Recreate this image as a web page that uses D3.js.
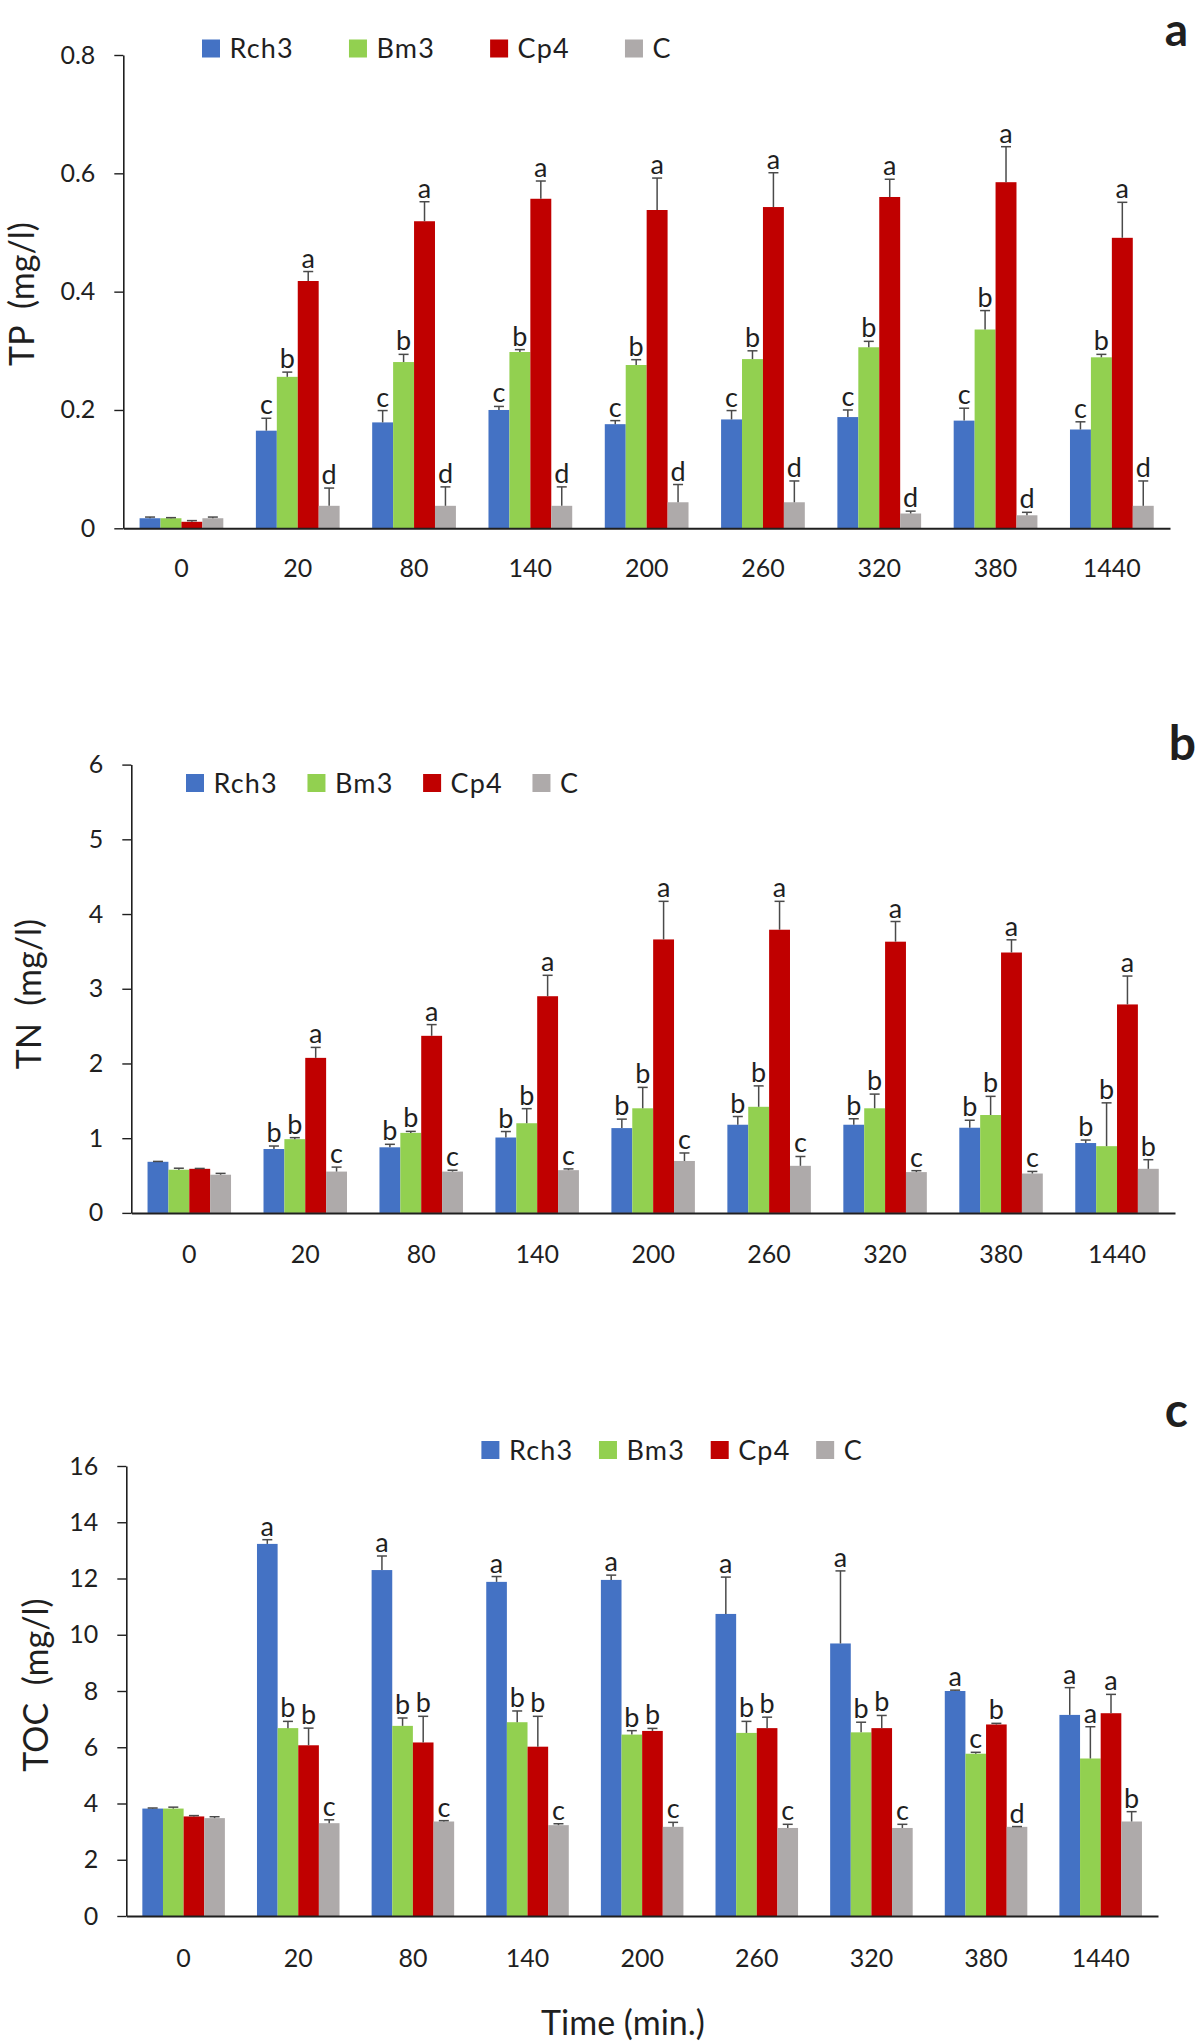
<!DOCTYPE html>
<html><head><meta charset="utf-8">
<script src="https://cdn.jsdelivr.net/npm/d3@7"></script>
<style>
html,body{margin:0;padding:0;background:#fff;}
svg{display:block;}
text{font-family:Lato,"Open Sans",sans-serif;fill:#1f1f1f;}
</style></head><body>
<svg id="chart" width="1200" height="2043"></svg>
<script>
// ---------- data ----------
const categories = ["0","20","80","140","200","260","320","380","1440"];
const seriesNames = ["Rch3","Bm3","Cp4","C"];
const seriesColors = ["#4472C4","#92D050","#C00000","#AEAAAA"];

// Panel a: TP (mg/l)
const tpTicks = [0,0.2,0.4,0.6,0.8];
const tpRch3 = [0.017,0.165,0.179,0.200,0.176,0.184,0.188,0.182,0.167];
const tpRch3Err = [0.002,0.021,0.020,0.006,0.006,0.015,0.012,0.021,0.013];
const tpBm3 = [0.017,0.256,0.281,0.298,0.276,0.286,0.306,0.336,0.289];
const tpBm3Err = [0.001,0.008,0.013,0.004,0.009,0.014,0.010,0.032,0.005];
const tpCp4 = [0.011,0.418,0.519,0.557,0.538,0.543,0.560,0.585,0.491];
const tpCp4Err = [0.002,0.016,0.033,0.030,0.054,0.058,0.030,0.060,0.060];
const tpC = [0.017,0.038,0.038,0.038,0.044,0.044,0.025,0.022,0.038];
const tpCErr = [0.002,0.030,0.032,0.032,0.030,0.036,0.004,0.005,0.042];
const tpLetRch3 = ["","c","c","c","c","c","c","c","c"];
const tpLetBm3 = ["","b","b","b","b","b","b","b","b"];
const tpLetCp4 = ["","a","a","a","a","a","a","a","a"];
const tpLetC = ["","d","d","d","d","d","d","d","d"];

// Panel b: TN (mg/l)
const tnTicks = [0,1,2,3,4,5,6];
const tnRch3 = [0.684,0.855,0.878,1.009,1.135,1.18,1.18,1.14,0.935];
const tnRch3Err = [0.005,0.04,0.04,0.08,0.12,0.11,0.08,0.10,0.04];
const tnBm3 = [0.578,0.987,1.071,1.20,1.40,1.42,1.40,1.31,0.893];
const tnBm3Err = [0.02,0.02,0.02,0.195,0.28,0.28,0.19,0.25,0.58];
const tnCp4 = [0.59,2.075,2.37,2.90,3.66,3.79,3.63,3.485,2.79];
const tnCp4Err = [0.005,0.14,0.15,0.28,0.51,0.38,0.27,0.17,0.38];
const tnC = [0.511,0.553,0.553,0.572,0.695,0.63,0.546,0.527,0.59];
const tnCErr = [0.018,0.06,0.018,0.017,0.107,0.125,0.019,0.028,0.122];
const tnLetRch3 = ["","b","b","b","b","b","b","b","b"];
const tnLetBm3 = ["","b","b","b","b","b","b","b","b"];
const tnLetCp4 = ["","a","a","a","a","a","a","a","a"];
const tnLetC = ["","c","c","c","c","c","c","c","b"];

// Panel c: TOC (mg/l)
const tocTicks = [0,2,4,6,8,10,12,14,16];
const tocRch3 = [3.82,13.23,12.30,11.88,11.95,10.74,9.69,8.00,7.15];
const tocRch3Err = [0.02,0.15,0.50,0.19,0.17,1.31,2.58,0.03,0.97];
const tocBm3 = [3.82,6.68,6.76,6.89,6.45,6.51,6.53,5.77,5.60];
const tocBm3Err = [0.05,0.24,0.28,0.40,0.14,0.41,0.36,0.05,1.13];
const tocCp4 = [3.54,6.07,6.17,6.02,6.58,6.68,6.68,6.81,7.21];
const tocCp4Err = [0.03,0.61,0.93,1.08,0.09,0.39,0.45,0.04,0.67];
const tocC = [3.48,3.30,3.36,3.23,3.17,3.13,3.13,3.17,3.36];
const tocCErr = [0.05,0.12,0.03,0.05,0.16,0.13,0.13,0.01,0.35];
const tocLetRch3 = ["","a","a","a","a","a","a","a","a"];
const tocLetBm3 = ["","b","b","b","b","b","b","c","a"];
const tocLetCp4 = ["","b","b","b","b","b","b","b","a"];
const tocLetC = ["","c","c","c","c","c","c","d","b"];

const xTitle = "Time (min.)";

// ---------- layout ----------
const panels = [
  {title:"TP  (mg/l)", letter:"a", ticks:tpTicks, max:0.8,
   vals:[tpRch3,tpBm3,tpCp4,tpC], errs:[tpRch3Err,tpBm3Err,tpCp4Err,tpCErr],
   lets:[tpLetRch3,tpLetBm3,tpLetCp4,tpLetC],
   xL:123.3, xR:1170, yTop:55, y0:528.3, legX:202, legY:39.5, legGap:55,
   titleX:33.5, titleY:294, letX:1188, letY:46, letSize:46, xLabOff:49},
  {title:"TN  (mg/l)", letter:"b", ticks:tnTicks, max:6,
   vals:[tnRch3,tnBm3,tnCp4,tnC], errs:[tnRch3Err,tnBm3Err,tnCp4Err,tnCErr],
   lets:[tnLetRch3,tnLetBm3,tnLetCp4,tnLetC],
   xL:131.3, xR:1175, yTop:764.6, y0:1212.9, legX:186, legY:774, legGap:29.5,
   titleX:40.5, titleY:994, letX:1196, letY:760, letSize:48, xLabOff:50},
  {title:"TOC  (mg/l)", letter:"c", ticks:tocTicks, max:16,
   vals:[tocRch3,tocBm3,tocCp4,tocC], errs:[tocRch3Err,tocBm3Err,tocCp4Err,tocCErr],
   lets:[tocLetRch3,tocLetBm3,tocLetCp4,tocLetC],
   xL:126.3, xR:1158, yTop:1466, y0:1916, legX:481.4, legY:1441, legGap:25.6,
   titleX:47.8, titleY:1685, letX:1188, letY:1427, letSize:48, xLabOff:51}
];

const svg = d3.select("#chart");
const tickFont = 25;
const letFont = 27;

panels.forEach(p => {
  const g = svg.append("g");
  const x = d3.scaleBand().domain(categories).range([p.xL, p.xR]).padding(0);
  const gw = x.bandwidth() * 0.72;
  const xs = d3.scaleBand().domain(seriesNames).range([-gw/2, gw/2]).padding(0);
  const y = d3.scaleLinear().domain([0, p.max]).range([p.y0, p.yTop]);

  // bars
  seriesNames.forEach((s, si) => {
    const rows = categories.map((c, ci) => ({c, v:p.vals[si][ci], e:p.errs[si][ci], l:p.lets[si][ci]}));
    const sg = g.append("g");
    sg.selectAll("rect").data(rows).join("rect")
      .attr("x", d => x(d.c) + x.bandwidth()/2 + xs(s))
      .attr("width", xs.bandwidth())
      .attr("y", d => y(d.v))
      .attr("height", d => p.y0 - y(d.v))
      .attr("fill", seriesColors[si]);
    const cx = d => x(d.c) + x.bandwidth()/2 + xs(s) + xs.bandwidth()/2;
    sg.selectAll("line.eb").data(rows).join("line").attr("class","eb")
      .attr("x1", cx).attr("x2", cx)
      .attr("y1", d => y(d.v)).attr("y2", d => y(d.v + d.e))
      .attr("stroke","#4a4a4a").attr("stroke-width",1.5);
    sg.selectAll("line.cap").data(rows).join("line").attr("class","cap")
      .attr("x1", d => cx(d) - 5).attr("x2", d => cx(d) + 5)
      .attr("y1", d => y(d.v + d.e)).attr("y2", d => y(d.v + d.e))
      .attr("stroke","#4a4a4a").attr("stroke-width",1.5);
    sg.selectAll("text.let").data(rows.filter(d => d.l)).join("text").attr("class","let")
      .attr("x", cx).attr("y", d => y(d.v + d.e) - 4)
      .attr("text-anchor","middle").attr("font-size", letFont)
      .text(d => d.l);
  });

  // y axis
  const yAxis = d3.axisLeft(y).tickValues(p.ticks).tickFormat(d => String(d))
    .tickSize(9).tickSizeOuter(0).tickPadding(19);
  const ya = g.append("g").attr("transform", `translate(${p.xL},0)`).call(yAxis);
  ya.select(".domain").attr("stroke","#1f1f1f").attr("stroke-width",1.6);
  ya.selectAll(".tick line").attr("stroke","#1f1f1f").attr("stroke-width",1.4);
  ya.selectAll(".tick text").attr("font-size", tickFont).attr("font-family","Lato").attr("fill","#1f1f1f");

  // x axis
  const xAxis = d3.axisBottom(x).tickSize(0).tickSizeOuter(0).tickPadding(p.xLabOff - tickFont*0.71);
  const xa = g.append("g").attr("transform", `translate(0,${p.y0})`).call(xAxis);
  xa.select(".domain").attr("stroke","#1f1f1f").attr("stroke-width",2);
  xa.selectAll(".tick text").attr("font-size", tickFont).attr("font-family","Lato").attr("fill","#1f1f1f");

  // y title
  g.append("text")
    .attr("transform", `translate(${p.titleX},${p.titleY}) rotate(-90)`)
    .attr("text-anchor","middle").attr("font-size",34)
    .style("white-space","pre")
    .text(p.title);

  // legend
  let lx = p.legX;
  seriesNames.forEach((s, si) => {
    g.append("rect").attr("x", lx).attr("y", p.legY).attr("width",18).attr("height",18)
      .attr("fill", seriesColors[si]);
    const t = g.append("text").attr("x", lx + 18 + 9.5).attr("y", p.legY + 18.5)
      .attr("font-size",27).attr("letter-spacing","1.2px").text(s);
    lx += 18 + 9.5 + t.node().getBBox().width + p.legGap;
  });

  // panel letter
  g.append("text").attr("x", p.letX).attr("y", p.letY)
    .attr("text-anchor","end").attr("font-size",p.letSize).attr("font-weight","bold")
    .attr("fill","#000").text(p.letter);
});

// x-axis title
svg.append("text").attr("x", 623).attr("y", 2035)
  .attr("text-anchor","middle").attr("font-size",34).text(xTitle);
</script>
</body></html>
